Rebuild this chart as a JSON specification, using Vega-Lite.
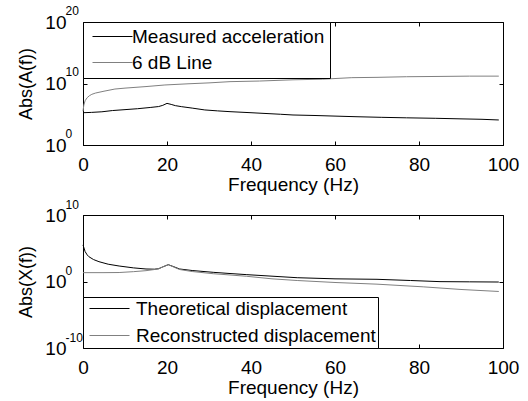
{
  "$schema": "https://vega.github.io/schema/vega-lite/v6.json",
  "padding": {"left": 16, "top": 3, "right": 5, "bottom": 5},
  "background": "white",
  "config": {
    "font": "Liberation Sans",
    "view": {"stroke": "black", "strokeWidth": 1},
    "axis": {
      "grid": false,
      "domainColor": "black",
      "tickColor": "black",
      "labelColor": "black",
      "titleColor": "black",
      "labelFontSize": 19,
      "titleFontSize": 19,
      "titleFontWeight": "normal",
      "labelFlush": false,
      "labelBound": false,
      "labelOverlap": false,
      "tickSize": -4
    },
    "legend": {
      "strokeColor": "black",
      "fillColor": "white",
      "padding": 5,
      "labelFontSize": 19,
      "labelColor": "black",
      "labelLimit": 400,
      "symbolType": "M-1,0H7",
      "symbolSize": 100,
      "symbolStrokeWidth": 1,
      "rowPadding": 6,
      "labelOffset": 25,
      "offset": 0,
      "cornerRadius": 0
    }
  },
  "bounds": "flush",
  "spacing": 70,
  "resolve": {"scale": {"color": "independent"}},
  "vconcat": [
    {
      "width": 420,
      "height": 123,
      "data": {"values": [
        {"f": 0, "v": 1.78e5, "s": "Measured acceleration"},
        {"f": 2, "v": 2.0e5, "s": "Measured acceleration"},
        {"f": 4.5, "v": 2.51e5, "s": "Measured acceleration"},
        {"f": 7, "v": 3.98e5, "s": "Measured acceleration"},
        {"f": 10, "v": 5.62e5, "s": "Measured acceleration"},
        {"f": 13, "v": 7.94e5, "s": "Measured acceleration"},
        {"f": 16, "v": 1.26e6, "s": "Measured acceleration"},
        {"f": 18, "v": 1.78e6, "s": "Measured acceleration"},
        {"f": 19, "v": 2.82e6, "s": "Measured acceleration"},
        {"f": 20, "v": 5.89e6, "s": "Measured acceleration"},
        {"f": 21, "v": 3.98e6, "s": "Measured acceleration"},
        {"f": 22, "v": 2.51e6, "s": "Measured acceleration"},
        {"f": 23.5, "v": 1.7e6, "s": "Measured acceleration"},
        {"f": 26, "v": 1.0e6, "s": "Measured acceleration"},
        {"f": 29, "v": 5.01e5, "s": "Measured acceleration"},
        {"f": 32, "v": 3.55e5, "s": "Measured acceleration"},
        {"f": 35, "v": 2.63e5, "s": "Measured acceleration"},
        {"f": 40, "v": 1.78e5, "s": "Measured acceleration"},
        {"f": 47, "v": 1.0e5, "s": "Measured acceleration"},
        {"f": 50, "v": 7.59e4, "s": "Measured acceleration"},
        {"f": 55, "v": 6.31e4, "s": "Measured acceleration"},
        {"f": 60, "v": 5.01e4, "s": "Measured acceleration"},
        {"f": 65, "v": 3.98e4, "s": "Measured acceleration"},
        {"f": 71, "v": 3.16e4, "s": "Measured acceleration"},
        {"f": 77, "v": 2.63e4, "s": "Measured acceleration"},
        {"f": 84, "v": 2.19e4, "s": "Measured acceleration"},
        {"f": 90, "v": 1.78e4, "s": "Measured acceleration"},
        {"f": 95, "v": 1.51e4, "s": "Measured acceleration"},
        {"f": 99, "v": 1.17e4, "s": "Measured acceleration"},
        {"f": 0, "v": 3.16e5, "s": "6 dB Line"},
        {"f": 0.2, "v": 3.16e6, "s": "6 dB Line"},
        {"f": 0.5, "v": 1.58e7, "s": "6 dB Line"},
        {"f": 1, "v": 5.01e7, "s": "6 dB Line"},
        {"f": 1.5, "v": 1.0e8, "s": "6 dB Line"},
        {"f": 2.1, "v": 1.74e8, "s": "6 dB Line"},
        {"f": 3, "v": 2.82e8, "s": "6 dB Line"},
        {"f": 5, "v": 5.62e8, "s": "6 dB Line"},
        {"f": 7.6, "v": 1.26e9, "s": "6 dB Line"},
        {"f": 10, "v": 1.78e9, "s": "6 dB Line"},
        {"f": 15, "v": 3.16e9, "s": "6 dB Line"},
        {"f": 19.5, "v": 5.75e9, "s": "6 dB Line"},
        {"f": 25, "v": 8.91e9, "s": "6 dB Line"},
        {"f": 30, "v": 1.26e10, "s": "6 dB Line"},
        {"f": 35, "v": 2.0e10, "s": "6 dB Line"},
        {"f": 42, "v": 2.51e10, "s": "6 dB Line"},
        {"f": 50, "v": 3.98e10, "s": "6 dB Line"},
        {"f": 57, "v": 5.01e10, "s": "6 dB Line"},
        {"f": 64, "v": 8.91e10, "s": "6 dB Line"},
        {"f": 70, "v": 1.0e11, "s": "6 dB Line"},
        {"f": 77, "v": 1.26e11, "s": "6 dB Line"},
        {"f": 85, "v": 1.41e11, "s": "6 dB Line"},
        {"f": 92, "v": 1.58e11, "s": "6 dB Line"},
        {"f": 99, "v": 1.58e11, "s": "6 dB Line"}
      ]},
      "layer": [
        {
          "mark": {"type": "line", "strokeWidth": 1},
          "encoding": {
            "x": {"field": "f", "type": "quantitative", "scale": {"domain": [0, 100], "nice": false},
                  "axis": {"values": [0, 20, 40, 60, 80, 100], "title": "Frequency (Hz)", "labelPadding": 14, "titlePadding": 1}},
            "y": {"field": "v", "type": "quantitative", "scale": {"type": "log", "domain": [1, 1e20], "nice": false},
                  "axis": {"values": [1, 1e10, 1e20], "title": "Abs(A(f))", "titleFontSize": 18, "titleX": -57, "titleY": 61.5, "titleBaseline": "middle", "labelPadding": 21,
                           "labelExpr": "'10'"}},
            "color": {"field": "s", "type": "nominal",
                      "scale": {"domain": ["Measured acceleration", "6 dB Line"], "range": ["#000000", "#808080"]},
                      "legend": {"orient": "top-left", "title": null}},
            "order": {"field": "f", "type": "quantitative"}
          }
        },
        {
          "mark": {"type": "line", "strokeOpacity": 0},
          "encoding": {
            "x": {"field": "f", "type": "quantitative", "axis": {"orient": "top", "values": [0, 20, 40, 60, 80, 100], "labels": false, "title": null, "domain": false}},
            "y": {"field": "v", "type": "quantitative", "axis": {"orient": "right", "values": [1, 1e10, 1e20], "labels": false, "title": null, "domain": false}},
            "detail": {"field": "s", "type": "nominal"}
          }
        },
        {
          "mark": {"type": "line", "strokeOpacity": 0},
          "encoding": {
            "x": {"field": "f", "type": "quantitative", "axis": null},
            "y": {"field": "v", "type": "quantitative", "axis": {"orient": "left", "values": [1, 1e10, 1e20], "ticks": false, "domain": false, "title": null,
                  "labelFontSize": 12, "labelAlign": "left", "labelBaseline": "middle", "labelPadding": 18, "labelOffset": -12,
                  "labelExpr": "datum.value == 1 ? '0' : (datum.value == 1e10 ? '10' : '20')"}},
            "detail": {"field": "s", "type": "nominal"}
          }
        }
      ],
      "resolve": {"axis": {"x": "independent", "y": "independent"}}
    },
    {
      "width": 420,
      "height": 133,
      "data": {"values": [
        {"f": 0, "v": 3.16e5, "s": "Theoretical displacement"},
        {"f": 0.5, "v": 3.16e4, "s": "Theoretical displacement"},
        {"f": 1, "v": 1.0e4, "s": "Theoretical displacement"},
        {"f": 1.4, "v": 5.37e3, "s": "Theoretical displacement"},
        {"f": 2.5, "v": 2.0e3, "s": "Theoretical displacement"},
        {"f": 3.8, "v": 955, "s": "Theoretical displacement"},
        {"f": 6, "v": 398, "s": "Theoretical displacement"},
        {"f": 8.6, "v": 214, "s": "Theoretical displacement"},
        {"f": 12, "v": 112, "s": "Theoretical displacement"},
        {"f": 15, "v": 75.9, "s": "Theoretical displacement"},
        {"f": 17, "v": 70.8, "s": "Theoretical displacement"},
        {"f": 18, "v": 83.2, "s": "Theoretical displacement"},
        {"f": 19, "v": 158, "s": "Theoretical displacement"},
        {"f": 20.3, "v": 339, "s": "Theoretical displacement"},
        {"f": 21.5, "v": 178, "s": "Theoretical displacement"},
        {"f": 23, "v": 75.9, "s": "Theoretical displacement"},
        {"f": 26, "v": 44.7, "s": "Theoretical displacement"},
        {"f": 31, "v": 24.0, "s": "Theoretical displacement"},
        {"f": 35, "v": 15.8, "s": "Theoretical displacement"},
        {"f": 39, "v": 10.7, "s": "Theoretical displacement"},
        {"f": 45, "v": 6.31, "s": "Theoretical displacement"},
        {"f": 51, "v": 3.72, "s": "Theoretical displacement"},
        {"f": 60, "v": 2.51, "s": "Theoretical displacement"},
        {"f": 70, "v": 2.14, "s": "Theoretical displacement"},
        {"f": 78, "v": 1.41, "s": "Theoretical displacement"},
        {"f": 85, "v": 0.955, "s": "Theoretical displacement"},
        {"f": 92, "v": 0.891, "s": "Theoretical displacement"},
        {"f": 99, "v": 0.832, "s": "Theoretical displacement"},
        {"f": 0, "v": 21.4, "s": "Reconstructed displacement"},
        {"f": 5, "v": 21.4, "s": "Reconstructed displacement"},
        {"f": 8.6, "v": 22.4, "s": "Reconstructed displacement"},
        {"f": 12, "v": 30.2, "s": "Reconstructed displacement"},
        {"f": 15, "v": 42.7, "s": "Reconstructed displacement"},
        {"f": 17, "v": 63.1, "s": "Reconstructed displacement"},
        {"f": 18, "v": 83.2, "s": "Reconstructed displacement"},
        {"f": 19, "v": 158, "s": "Reconstructed displacement"},
        {"f": 20.3, "v": 339, "s": "Reconstructed displacement"},
        {"f": 21.5, "v": 158, "s": "Reconstructed displacement"},
        {"f": 23, "v": 63.1, "s": "Reconstructed displacement"},
        {"f": 26, "v": 31.6, "s": "Reconstructed displacement"},
        {"f": 31, "v": 14.8, "s": "Reconstructed displacement"},
        {"f": 35, "v": 9.55, "s": "Reconstructed displacement"},
        {"f": 39, "v": 6.03, "s": "Reconstructed displacement"},
        {"f": 45, "v": 2.51, "s": "Reconstructed displacement"},
        {"f": 51, "v": 1.41, "s": "Reconstructed displacement"},
        {"f": 60, "v": 0.708, "s": "Reconstructed displacement"},
        {"f": 70, "v": 0.398, "s": "Reconstructed displacement"},
        {"f": 81, "v": 0.158, "s": "Reconstructed displacement"},
        {"f": 90, "v": 0.0631, "s": "Reconstructed displacement"},
        {"f": 99, "v": 0.0316, "s": "Reconstructed displacement"}
      ]},
      "layer": [
        {
          "mark": {"type": "line", "strokeWidth": 1},
          "encoding": {
            "x": {"field": "f", "type": "quantitative", "scale": {"domain": [0, 100], "nice": false},
                  "axis": {"values": [0, 20, 40, 60, 80, 100], "title": "Frequency (Hz)", "labelPadding": 14, "titlePadding": 1}},
            "y": {"field": "v", "type": "quantitative", "scale": {"type": "log", "domain": [1e-10, 1e10], "nice": false},
                  "axis": {"values": [1e-10, 1, 1e10], "title": "Abs(X(f))", "titleFontSize": 18, "titleX": -57, "titleY": 66.5, "titleBaseline": "middle", "labelPadding": 21,
                           "labelExpr": "'10'"}},
            "color": {"field": "s", "type": "nominal",
                      "scale": {"domain": ["Theoretical displacement", "Reconstructed displacement"], "range": ["#000000", "#808080"]},
                      "legend": {"orient": "bottom-left", "title": null, "padding": 2, "rowPadding": 7, "labelOffset": 32}},
            "order": {"field": "f", "type": "quantitative"}
          }
        },
        {
          "mark": {"type": "line", "strokeOpacity": 0},
          "encoding": {
            "x": {"field": "f", "type": "quantitative", "axis": {"orient": "top", "values": [0, 20, 40, 60, 80, 100], "labels": false, "title": null, "domain": false}},
            "y": {"field": "v", "type": "quantitative", "axis": {"orient": "right", "values": [1e-10, 1, 1e10], "labels": false, "title": null, "domain": false}},
            "detail": {"field": "s", "type": "nominal"}
          }
        },
        {
          "mark": {"type": "line", "strokeOpacity": 0},
          "encoding": {
            "x": {"field": "f", "type": "quantitative", "axis": null},
            "y": {"field": "v", "type": "quantitative", "axis": {"orient": "left", "values": [1e-10, 1, 1e10], "ticks": false, "domain": false, "title": null,
                  "labelFontSize": 12, "labelAlign": "left", "labelBaseline": "middle", "labelPadding": 18, "labelOffset": -11,
                  "labelExpr": "datum.value == 1 ? '0' : (datum.value > 1 ? '10' : '-10')"}},
            "detail": {"field": "s", "type": "nominal"}
          }
        }
      ],
      "resolve": {"axis": {"x": "independent", "y": "independent"}}
    }
  ]
}
